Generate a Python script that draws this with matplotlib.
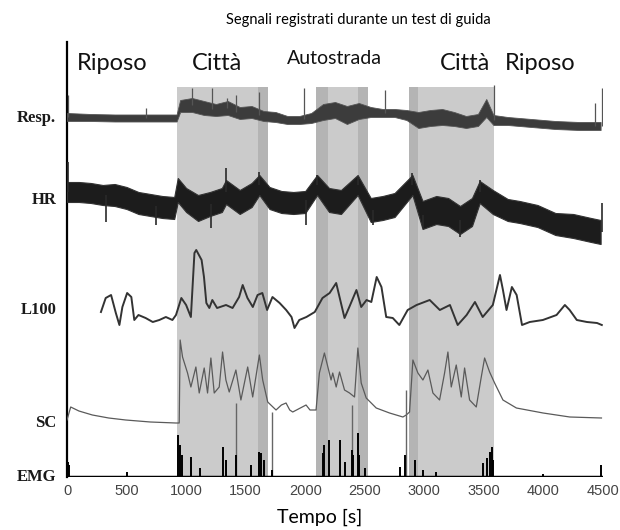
import numpy as np
import matplotlib.pyplot as plt

#-----------------------------------DATA (arbitrary units per channel)
# Resp: centre of the trace band + half width of the band
resp_t = [0, 200, 400, 600, 800, 920, 950, 1050, 1150, 1250, 1350, 1450, 1550, 1650, 1750, 1850,
          1950, 2050, 2150, 2250, 2350, 2450, 2550, 2650, 2750, 2850, 2950, 3050, 3150, 3250, 3350,
          3450, 3520, 3580, 3700, 3900, 4100, 4300, 4480]
resp_c = [1, 0.5, 0, 0, 0, 0, 12, 13, 10, 8, 10, 5, 6, 2, 1, -2, -2, 0, 6, 8, 3, 7, 6, 5, 5, 3,
          -2, 0, 1, -1, -4, -2, 10, -2, -3, -5, -7, -8, -8]
resp_w = [4, 3.5, 3.5, 3.5, 3.5, 3.5, 6, 7, 7, 6, 7, 6, 6, 5, 5, 4, 4, 5, 8, 8, 9, 8, 5, 4, 4, 5,
          8, 8, 8, 7, 6, 6, 9, 5, 4, 4, 4, 4, 4]
resp_spk_t = [8, 665, 1050, 1220, 1340, 1420, 1615, 1993, 2666, 3585, 4430, 4495]
resp_spk_v = [23, 10, 30, 30, 20, 23, 26, 30, 28, 33, 15, 30]

# HR
hr_t = [0, 100, 200, 300, 400, 500, 600, 700, 800, 900, 930, 1000, 1100, 1200, 1300, 1335, 1450,
        1550, 1615, 1700, 1800, 1900, 2000, 2100, 2200, 2300, 2440, 2550, 2650, 2750, 2900, 2985,
        3100, 3200, 3300, 3400, 3465, 3575, 3700, 3800, 3950, 4100, 4250, 4400, 4480]
hr_c = [8, 8, 7, 5, 5, 2, -3, -5, -7, -8, 10, 0, -8, -4, 0, 8, -2, 5, 15, 2, -2, -3, -2, 15, 0,
        -2, 15, -10, -8, -5, 15, -15, -10, -12, -20, -12, 8, -2, -10, -12, -16, -24, -26, -30, -32]
hr_w = [10, 10, 10, 10, 11, 11, 11, 11, 11, 11, 12, 12, 13, 12, 12, 12, 12, 12, 10, 11, 11, 11,
        11, 10, 12, 12, 10, 12, 12, 12, 10, 14, 14, 14, 14, 14, 11, 12, 11, 11, 11, 11, 12, 12, 12]
hr_spk_t = [5, 330, 750, 1210, 1335, 1615, 2010, 2100, 2440, 2565, 2900, 2985, 3300, 3465, 4495]
hr_spk_v = [38, -22, -25, -28, 32, 28, -25, 25, 23, -25, 27, -28, -37, 20, -3]

# L100
l100_t = [285, 325, 370, 410, 440, 465, 505, 540, 565, 600, 660, 720, 775, 830, 885, 915, 960,
          1000, 1040, 1070, 1085, 1130, 1150, 1170, 1195, 1220, 1260, 1335, 1390, 1445, 1475, 1515,
          1560, 1600, 1640, 1680, 1725, 1785, 1840, 1885, 1910, 1950, 2010, 2080, 2145, 2205, 2260,
          2330, 2370, 2430, 2470, 2515, 2555, 2600, 2640, 2680, 2735, 2790, 2860, 2935, 3045, 3130,
          3215, 3280, 3355, 3425, 3490, 3575, 3635, 3660, 3690, 3735, 3775, 3820, 3885, 3995, 4110,
          4180, 4220, 4280, 4365, 4450, 4490]
l100_v = [-2, 12, 15, -3, -15, 3, 17, 13, -10, -5, -8, -12, -10, -7, -10, -5, 12, 5, -7, 57, 60,
          50, 33, 7, 2, 10, 2, 5, 2, 13, 25, 12, 3, 15, 17, 0, 13, 7, 0, -7, -18, -10, -7, -2, 12,
          17, 27, -8, 3, 20, 3, 10, 8, 33, 23, -7, -8, -15, 0, 5, 10, 0, 5, -15, -5, 8, -7, 5, 35,
          20, 0, 23, 15, -15, -12, -10, -5, 5, 0, -10, -12, -13, -15]

# SC
sc_t = [0, 31, 100, 213, 350, 493, 700, 914, 942, 950, 970, 1012, 1040, 1082, 1110, 1152, 1180,
        1208, 1236, 1278, 1306, 1334, 1362, 1418, 1460, 1517, 1559, 1615, 1643, 1685, 1755, 1800,
        1839, 1870, 1895, 2007, 2040, 2091, 2119, 2161, 2217, 2231, 2260, 2288, 2330, 2372, 2414,
        2442, 2470, 2512, 2596, 2708, 2820, 2848, 2876, 2904, 2946, 2988, 3030, 3072, 3128, 3170,
        3198, 3226, 3268, 3310, 3338, 3380, 3436, 3478, 3506, 3548, 3590, 3660, 3773, 3997, 4221,
        4487]
sc_v = [3, 16, 12, 8, 5, 3, 1, 0, 0, 83, 66, 50, 36, 56, 30, 55, 30, 65, 30, 36, 71, 43, 31, 53,
        23, 56, 26, 68, 43, 21, 13, 18, 20, 13, 11, 18, 13, 13, 50, 70, 43, 50, 36, 51, 33, 30, 26,
        75, 40, 25, 15, 10, 6, 8, 11, 63, 50, 43, 53, 30, 23, 50, 71, 36, 58, 26, 55, 23, 16, 46,
        65, 51, 40, 23, 15, 10, 6, 5]
sc_art_t = [1418, 1725, 2390, 2843]
sc_art_v = [20, 11, 18, 33]

# EMG bursts
emg_t = [5, 20, 500, 935, 950, 965, 1040, 1120, 1306, 1334, 1418, 1545, 1615, 1630, 1650, 1725,
         2147, 2160, 2200, 2288, 2330, 2390, 2400, 2442, 2450, 2500, 2792, 2834, 2918, 2990, 3100,
         3492, 3530, 3548, 3565, 3580, 4000, 4487]
emg_v = [15, 12, 5, 42, 32, 22, 20, 9, 30, 17, 22, 12, 25, 24, 17, 7, 24, 32, 37, 37, 15, 27, 22,
         44, 22, 9, 10, 22, 17, 7, 5, 14, 19, 25, 30, 17, 3, 12]

channels = ['Resp.', 'HR', 'L100', 'SC', 'EMG']
phases = ['Riposo', 'Città', 'Autostrada', 'Città', 'Riposo']

#-----------------------------------LAYOUT
offs = {'Resp.': 359, 'HR': 277, 'L100': 167, 'SC': 54, 'EMG': 0}
light = [(925, 1600), (2190, 2440), (2950, 3585)]
dark = [(1600, 1690), (2090, 2190), (2440, 2530), (2875, 2950)]
phase_x = [378, 1262, 2245, 3340, 3970]
phase_y = [414, 414, 419, 414, 414]
TOP = 435
SPAN_TOP = 390

plt.rcParams['font.family'] = ['Lato', 'DejaVu Sans']

fig = plt.figure(figsize=(6.2, 5.3), dpi=100)
ax = fig.add_axes([67 / 620, 53 / 530, 536 / 620, 435 / 530])
ax.set_xlim(0, 4500)
ax.set_ylim(0, TOP)

#-----------------------------------shaded phases
for a, b in light:
    ax.axvspan(a, b, ymin=0, ymax=SPAN_TOP / TOP, color='#cbcbcb', lw=0, zorder=0)
for a, b in dark:
    ax.axvspan(a, b, ymin=0, ymax=SPAN_TOP / TOP, color='#b4b4b4', lw=0, zorder=0)

#-----------------------------------Resp
o = offs['Resp.']
rc = np.array(resp_c); rw = np.array(resp_w)
ax.fill_between(resp_t, o + rc - rw, o + rc + rw, color='#3c3c3c', lw=0.6, ec='#555555', zorder=3)
base = np.interp(resp_spk_t, resp_t, rc)
ax.vlines(resp_spk_t, o + base, o + np.array(resp_spk_v), color='#555555', lw=0.9, zorder=3)

#-----------------------------------HR
o = offs['HR']
hc = np.array(hr_c); hw = np.array(hr_w)
ax.fill_between(hr_t, o + hc - hw, o + hc + hw, color='#1c1c1c', lw=0.8, ec='#333333', zorder=3)
base = np.interp(hr_spk_t, hr_t, hc)
ax.vlines(hr_spk_t, o + base, o + np.array(hr_spk_v), color='#2a2a2a', lw=1.2, zorder=3)

#-----------------------------------L100
o = offs['L100']
ax.plot(l100_t, o + np.array(l100_v), color='#333333', lw=1.4, ls='-', zorder=3)

#-----------------------------------SC
o = offs['SC']
ax.plot(sc_t, o + np.array(sc_v), color='#5a5a5a', lw=0.9, zorder=3)
ax.vlines(sc_art_t, 0, o + np.array(sc_art_v), color='#666666', lw=1.0, zorder=3)

#-----------------------------------EMG
ax.vlines(emg_t, 0, np.array(emg_v), color='black', lw=1.4, zorder=4)
ax.axhline(0, color='black', lw=2.5, zorder=5)

#-----------------------------------labels
for name in channels:
    ax.text(-0.02, offs[name] / TOP, name, transform=ax.transAxes, ha='right', va='center',
            fontsize=12, fontweight='bold', family='Liberation Serif', color='#1a1a1a')
for txt, x, y in zip(phases, phase_x, phase_y):
    ax.text(x, y, txt, ha='center', va='center', fontsize=17 if txt != 'Autostrada' else 14,
            color='#111111')

ax.set_xticks(np.arange(0, 4501, 500))
ax.tick_params(axis='x', length=0, pad=5, labelsize=10.5, labelcolor='#444444')
for lab in ax.get_xticklabels():
    lab.set_family('Liberation Sans')
ax.set_yticks([])
for s in ['top', 'right', 'bottom']:
    ax.spines[s].set_visible(False)
ax.spines['left'].set_linewidth(1.6)
fig.text(320 / 620, 1 - 517 / 530, 'Tempo [s]', ha='center', va='center', fontsize=14)
fig.text(358 / 620, 1 - 20 / 530, 'Segnali registrati durante un test di guida',
         ha='center', va='center', fontsize=10.5)

plt.savefig('out.png', dpi=100)
